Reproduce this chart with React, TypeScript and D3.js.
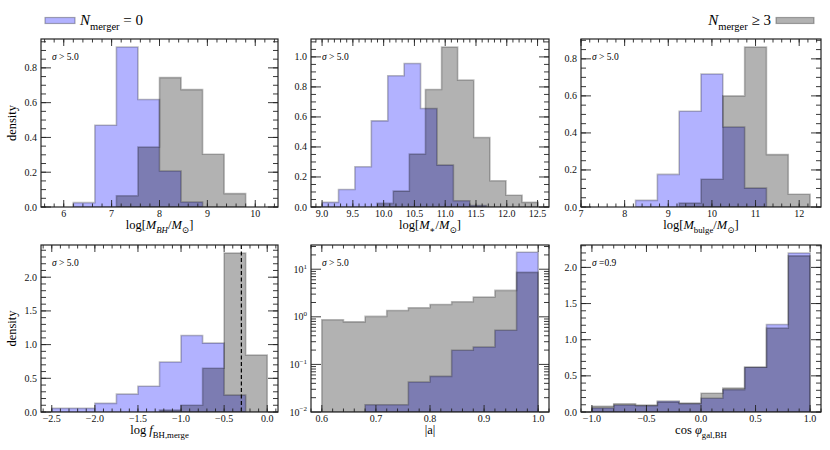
import * as d3 from "d3";
import React from "react";

// histogram densities: blue = no mergers, gray = 3+ mergers
const mbhEdgesNone = [6.2, 6.65, 7.1, 7.55, 8.0, 8.45, 8.9];
const mbhNone = [0.025, 0.47, 0.92, 0.618, 0.207, 0.029];
const mbhEdgesMany = [7.1, 7.55, 8.0, 8.45, 8.9, 9.35, 9.8];
const mbhMany = [0.065, 0.345, 0.744, 0.675, 0.303, 0.077];

const mstarEdgesNone = [9.0, 9.267, 9.533, 9.8, 10.067, 10.333, 10.6, 10.867, 11.133, 11.4, 11.667];
const mstarNone = [0.031, 0.117, 0.268, 0.574, 0.874, 0.956, 0.656, 0.279, 0.042, 0.01];
const mstarEdgesMany = [9.894, 10.156, 10.417, 10.679, 10.941, 11.202, 11.464, 11.726, 11.987, 12.249, 12.51];
const mstarMany = [0.024, 0.106, 0.353, 0.783, 1.066, 0.845, 0.463, 0.175, 0.078, 0.031];

const mbulgeEdgesNone = [8.25, 8.75, 9.25, 9.75, 10.25, 10.75, 11.25];
const mbulgeNone = [0.036, 0.176, 0.517, 0.718, 0.432, 0.102];
const mbulgeEdgesMany = [9.25, 9.75, 10.25, 10.75, 11.25, 11.75, 12.25];
const mbulgeMany = [0.022, 0.15, 0.6, 0.864, 0.283, 0.069];

const fmergeEdgesNone = [-2.5, -2.25, -2.0, -1.75, -1.5, -1.25, -1.0, -0.75, -0.5, -0.25];
const fmergeNone = [0.054, 0.054, 0.128, 0.265, 0.383, 0.742, 1.135, 1.022, 0.25];
const fmergeEdgesMany = [-1.25, -1.0, -0.75, -0.5, -0.25, 0.0];
const fmergeMany = [0.03, 0.1, 0.65, 2.36, 0.845];
const fmergeCut = -0.3;

const spinEdgesNone = [0.68, 0.72, 0.76, 0.8, 0.84, 0.88, 0.92, 0.96, 1.0];
const spinNone = [0.0142, 0.0142, 0.0426, 0.0561, 0.198, 0.233, 0.524, 22.7];
const spinEdgesMany = [0.6, 0.64, 0.68, 0.72, 0.76, 0.8, 0.84, 0.88, 0.92, 0.96, 1.0];
const spinMany = [0.865, 0.785, 1.02, 1.36, 1.55, 1.82, 2.07, 2.6, 3.59, 8.6];

const cosEdges = [-1.0, -0.8, -0.6, -0.4, -0.2, 0.0, 0.2, 0.4, 0.6, 0.8, 1.0];
const cosNone = [0.055, 0.096, 0.087, 0.15, 0.114, 0.19, 0.31, 0.62, 1.21, 2.2];
const cosMany = [0.078, 0.114, 0.096, 0.137, 0.124, 0.26, 0.33, 0.62, 1.16, 2.16];

const legendNone = "= 0";
const legendMany = "≥ 3";

type Part = { t: string; i?: boolean; sub?: boolean; sup?: boolean };

function MathText({ parts, x, y, size, anchor = "start", transform }: any) {
  let shift = 0;
  return (
    <text x={x} y={y} fontSize={size} textAnchor={anchor} transform={transform}>
      {parts.map((p: Part, k: number) => {
        const target = p.sub ? size * 0.3 : p.sup ? -size * 0.42 : 0;
        const dy = target - shift;
        shift = target;
        return (
          <tspan key={k} dy={dy} fontStyle={p.i ? "italic" : "normal"} fontSize={p.sub || p.sup ? size * 0.7 : size}>
            {p.t}
          </tspan>
        );
      })}
    </text>
  );
}

const cols = [[41, 278], [311, 549], [581, 821]];
const rows = [[39, 207], [245, 412]];

const panels = [
  {
    col: 0, row: 0, xDomain: [5.525, 10.475], xStep: 1, xMinor: 0.2, xFmt: "d", yStep: 0.2, yMinor: 0.05,
    none: [mbhEdgesNone, mbhNone], many: [mbhEdgesMany, mbhMany], note: "σ > 5.0", ylabel: true,
    xlabel: [{ t: "log[" }, { t: "M", i: true }, { t: "BH", i: true, sub: true }, { t: "/" }, { t: "M", i: true }, { t: "⊙", sub: true }, { t: "]" }],
  },
  {
    col: 1, row: 0, xDomain: [8.82, 12.686], xStep: 0.5, xMinor: 0.1, xFmt: ".1f", yStep: 0.2, yMinor: 0.05,
    none: [mstarEdgesNone, mstarNone], many: [mstarEdgesMany, mstarMany], note: "σ > 5.0",
    xlabel: [{ t: "log[" }, { t: "M", i: true }, { t: "∗", sub: true }, { t: "/" }, { t: "M", i: true }, { t: "⊙", sub: true }, { t: "]" }],
  },
  {
    col: 2, row: 0, xDomain: [7.0, 12.5], xStep: 1, xMinor: 0.2, xFmt: "d", yStep: 0.2, yMinor: 0.05,
    none: [mbulgeEdgesNone, mbulgeNone], many: [mbulgeEdgesMany, mbulgeMany], note: "σ > 5.0",
    xlabel: [{ t: "log[" }, { t: "M", i: true }, { t: "bulge", sub: true }, { t: "/" }, { t: "M", i: true }, { t: "⊙", sub: true }, { t: "]" }],
  },
  {
    col: 0, row: 1, xDomain: [-2.625, 0.125], xStep: 0.5, xMinor: 0.1, xFmt: ".1f", yStep: 0.5, yMinor: 0.1,
    none: [fmergeEdgesNone, fmergeNone], many: [fmergeEdgesMany, fmergeMany], note: "σ > 5.0", ylabel: true, vline: fmergeCut,
    xlabel: [{ t: "log " }, { t: "f", i: true }, { t: "BH,merge", sub: true }],
  },
  {
    col: 1, row: 1, xDomain: [0.58, 1.02], xStep: 0.1, xMinor: 0.02, xFmt: ".1f", log: true, yDomain: [0.01, 32.3],
    none: [spinEdgesNone, spinNone], many: [spinEdgesMany, spinMany], note: "σ > 5.0",
    xlabel: [{ t: "|a|" }],
  },
  {
    col: 2, row: 1, xDomain: [-1.1, 1.1], xStep: 0.5, xMinor: 0.1, xFmt: ".1f", yStep: 0.5, yMinor: 0.1,
    none: [cosEdges, cosNone], many: [cosEdges, cosMany], note: "σ =0.9",
    xlabel: [{ t: "cos " }, { t: "φ", i: true }, { t: "gal,BH", sub: true }],
  },
];

const steps = (lo: number, hi: number, step: number) => {
  const out: number[] = [];
  for (let k = Math.ceil(lo / step - 1e-6); k * step <= hi + 1e-9; k++) out.push(+(k * step).toFixed(6));
  return out;
};

const XMAJ = 7, XMIN = 3.5, YMAJ = 10, YMIN = 5;
const FRAME = "#222";

function Panel({ p, idx }: any) {
  const [left, right] = cols[p.col];
  const [top, bottom] = rows[p.row];
  const x = d3.scaleLinear().domain(p.xDomain).range([left, right]);
  const ymax = Math.max(d3.max(p.none[1] as number[])!, d3.max(p.many[1] as number[])!) * 1.05;
  const y: any = p.log
    ? d3.scaleLog().domain(p.yDomain).range([bottom, top]).clamp(true)
    : d3.scaleLinear().domain([0, ymax]).range([bottom, top]);

  const area = d3
    .area<[number, number]>()
    .x((d) => x(d[0]))
    .y0(bottom)
    .y1((d) => y(d[1]))
    .curve(d3.curveStepAfter);
  const pts = ([edges, vals]: any) =>
    edges.map((e: number, i: number) => [e, vals[Math.min(i, vals.length - 1)]] as [number, number]);

  const xMaj = steps(p.xDomain[0], p.xDomain[1], p.xStep);
  const xMin = steps(p.xDomain[0], p.xDomain[1], p.xMinor);
  let yMaj: number[], yMin: number[];
  if (p.log) {
    yMaj = [0.01, 0.1, 1, 10];
    yMin = [];
    for (let e = -2; e <= 1; e++) for (let k = 2; k <= 9; k++) {
      const v = k * Math.pow(10, e);
      if (v <= p.yDomain[1]) yMin.push(v);
    }
  } else {
    yMaj = steps(0, ymax, p.yStep);
    yMin = steps(0, ymax, p.yMinor);
  }
  const xf = d3.format(p.xFmt);
  const yf = d3.format(".1f");
  const clipId = `clip${idx}`;

  return (
    <g>
      <clipPath id={clipId}>
        <rect x={left} y={top} width={right - left} height={bottom - top} />
      </clipPath>
      <g clipPath={`url(#${clipId})`}>
        <path d={area(pts(p.none))!} fill="blue" fillOpacity={0.3} stroke="#000" strokeOpacity={0.25} strokeWidth={1.6} />
        <path d={area(pts(p.many))!} fill="#000" fillOpacity={0.3} stroke="#000" strokeOpacity={0.25} strokeWidth={1.6} />
        {p.vline !== undefined && (
          <line x1={x(p.vline)} x2={x(p.vline)} y1={top} y2={bottom} stroke="#000" strokeWidth={1.2} strokeDasharray="4,2.5" />
        )}
      </g>
      <g stroke={FRAME} strokeWidth={0.9}>
        {xMin.map((v) => (
          <g key={"xm" + v}>
            <line x1={x(v)} x2={x(v)} y1={bottom} y2={bottom - XMIN} />
            <line x1={x(v)} x2={x(v)} y1={top} y2={top + XMIN} />
          </g>
        ))}
        {xMaj.map((v) => (
          <g key={"xM" + v}>
            <line x1={x(v)} x2={x(v)} y1={bottom} y2={bottom - XMAJ} />
            <line x1={x(v)} x2={x(v)} y1={top} y2={top + XMAJ} />
          </g>
        ))}
        {yMin.map((v) => (
          <g key={"ym" + v}>
            <line x1={left} x2={left + YMIN} y1={y(v)} y2={y(v)} />
            <line x1={right} x2={right - YMIN} y1={y(v)} y2={y(v)} />
          </g>
        ))}
        {yMaj.map((v) => (
          <g key={"yM" + v}>
            <line x1={left} x2={left + YMAJ} y1={y(v)} y2={y(v)} />
            <line x1={right} x2={right - YMAJ} y1={y(v)} y2={y(v)} />
          </g>
        ))}
      </g>
      <rect x={left} y={top} width={right - left} height={bottom - top} fill="none" stroke={FRAME} strokeWidth={1.2} />
      <g fontSize={10} fill="#111">
        {xMaj.map((v) => (
          <text key={"xl" + v} x={x(v)} y={bottom + 10} textAnchor="middle">
            {xf(v)}
          </text>
        ))}
        {yMaj.map((v) =>
          p.log ? (
            <MathText key={"yl" + v} x={left - 4} y={y(v) + 3.5} size={10} anchor="end"
              parts={[{ t: "10" }, { t: d3.format("d")(Math.round(Math.log10(v))), sup: true }]} />
          ) : (
            <text key={"yl" + v} x={left - 4} y={y(v) + 3.5} textAnchor="end">
              {yf(v)}
            </text>
          )
        )}
      </g>
      <MathText x={left + 11} y={top + 21} size={9.5} parts={[{ t: p.note.slice(0, 1), i: true }, { t: p.note.slice(1) }]} />
      <MathText x={(left + right) / 2} y={bottom + 22} size={12.5} anchor="middle" parts={p.xlabel} />
      {p.ylabel && (
        <text x={0} y={0} fontSize={12.5} textAnchor="middle" transform={`translate(16,${(top + bottom) / 2}) rotate(-90)`}>
          density
        </text>
      )}
    </g>
  );
}

export default function App() {
  return (
    <svg width={830} height={450}
      style={{ position: "absolute", left: 0, top: 0, background: "#fff", fontFamily: "Liberation Serif, Times New Roman, DejaVu Serif, serif" }}>
      <rect width={830} height={450} fill="#fff" />
      {panels.map((p, i) => (
        <Panel key={i} p={p} idx={i} />
      ))}
      <rect x={45} y={17.5} width={30} height={6} fill="blue" fillOpacity={0.3} stroke="#000" strokeOpacity={0.3} strokeWidth={1.2} />
      <MathText x={80} y={25} size={15} parts={[{ t: "N", i: true }, { t: "merger", sub: true }, { t: " " + legendNone }]} />
      <MathText x={771} y={25} size={15} anchor="end" parts={[{ t: "N", i: true }, { t: "merger", sub: true }, { t: " " + legendMany }]} />
      <rect x={776} y={17.5} width={38} height={6} fill="#000" fillOpacity={0.3} stroke="#000" strokeOpacity={0.3} strokeWidth={1.2} />
    </svg>
  );
}
